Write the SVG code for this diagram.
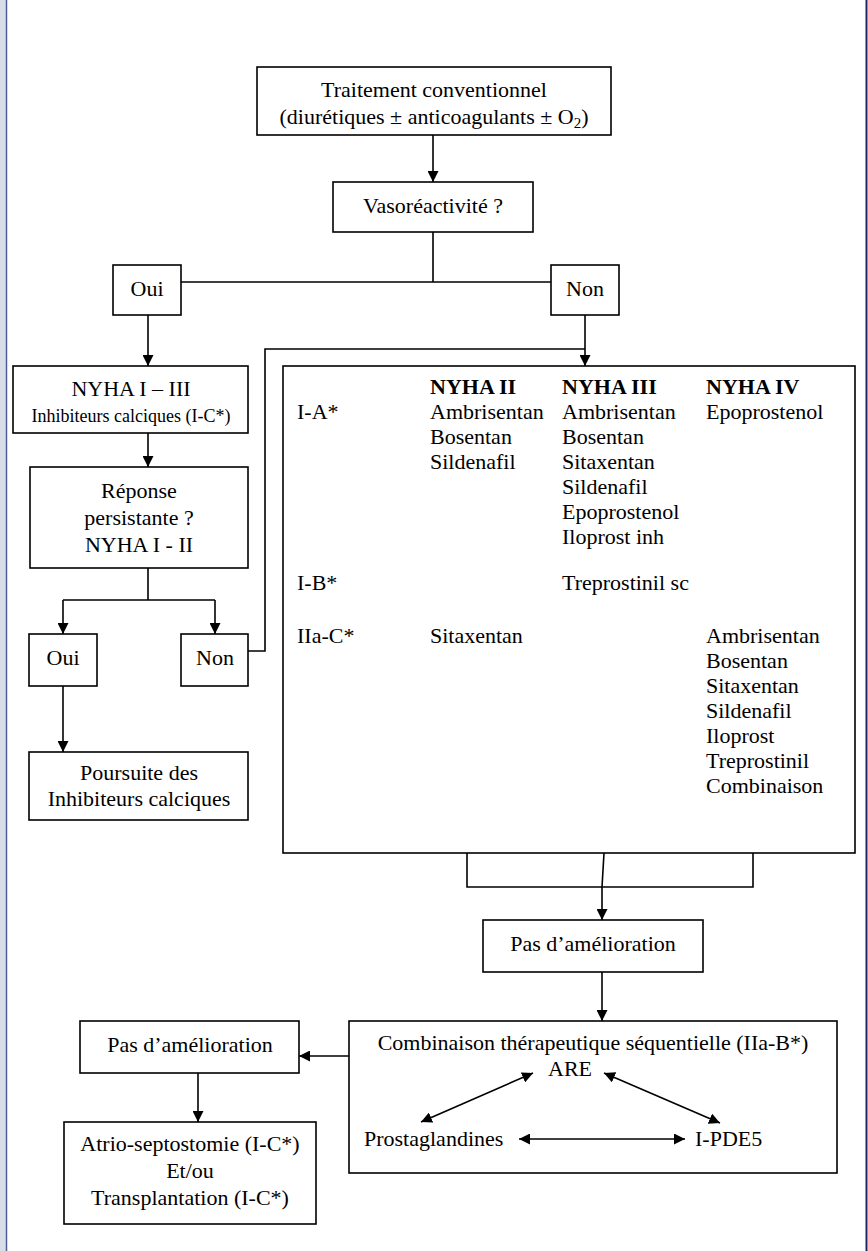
<svg xmlns="http://www.w3.org/2000/svg" width="868" height="1251" viewBox="0 0 868 1251">
<defs>
<marker id="ah" viewBox="0 0 10 10" refX="10" refY="5" markerWidth="11" markerHeight="11" markerUnits="userSpaceOnUse" orient="auto-start-reverse">
<path d="M0,0 L10,5 L0,10 z" fill="#000"/>
</marker>
<style>
.box{fill:#fff;stroke:#000;stroke-width:1.6}
.t{font-family:"Liberation Serif","Times New Roman",serif;font-size:22px;fill:#000}
.c{text-anchor:middle}
.s{font-size:18px}
.b{font-weight:bold}
.ln{fill:none;stroke:#000;stroke-width:1.6}
.ar{fill:none;stroke:#000;stroke-width:1.6;marker-end:url(#ah)}
.ar2{fill:none;stroke:#000;stroke-width:1.6;marker-end:url(#ah);marker-start:url(#ah)}
</style>
</defs>
<rect x="0" y="0" width="868" height="1251" fill="#fff"/>
<rect x="0" y="0" width="6" height="1251" fill="#d8dde9"/>
<line x1="6.5" y1="0" x2="6.5" y2="1251" stroke="#4e5c98" stroke-width="1.5"/>
<line x1="866.5" y1="0" x2="866.5" y2="1251" stroke="#1e2460" stroke-width="2"/>

<g id="n-traitement">
<rect class="box" x="257" y="67" width="354" height="68"/>
<text class="t c" x="434" y="97">Traitement conventionnel</text>
<text class="t c" x="434" y="124">(diurétiques ± anticoagulants ± O<tspan font-size="15" dy="4">2</tspan><tspan dy="-4">)</tspan></text>
</g>
<g id="n-vaso">
<rect class="box" x="333" y="182" width="200" height="50"/>
<text class="t c" x="433" y="213">Vasoréactivité ?</text>
</g>
<g id="n-oui1">
<rect class="box" x="113" y="265" width="68" height="50"/>
<text class="t c" x="147" y="296">Oui</text>
</g>
<g id="n-non1">
<rect class="box" x="551" y="265" width="68" height="50"/>
<text class="t c" x="585" y="296">Non</text>
</g>
<g id="n-nyha">
<rect class="box" x="13" y="366" width="235" height="67"/>
<text class="t c" x="131" y="396">NYHA I – III</text>
<text class="t c s" x="131" y="422">Inhibiteurs calciques (I-C*)</text>
</g>
<g id="n-reponse">
<rect class="box" x="30" y="467" width="218" height="101"/>
<text class="t c" x="139" y="498">Réponse</text>
<text class="t c" x="139" y="525">persistante ?</text>
<text class="t c" x="139" y="552">NYHA I - II</text>
</g>
<g id="n-oui2">
<rect class="box" x="29" y="634" width="68" height="52"/>
<text class="t c" x="63" y="665">Oui</text>
</g>
<g id="n-non2">
<rect class="box" x="181" y="634" width="67" height="52"/>
<text class="t c" x="215" y="665">Non</text>
</g>
<g id="n-poursuite">
<rect class="box" x="29" y="752" width="219" height="68"/>
<text class="t c" x="139" y="780">Poursuite des</text>
<text class="t c" x="139" y="806">Inhibiteurs calciques</text>
</g>
<g id="n-table">
<rect class="box" x="283" y="366" width="572" height="487"/>
<text class="t b" x="430" y="394">NYHA II</text>
<text class="t b" x="562" y="394">NYHA III</text>
<text class="t b" x="706" y="394">NYHA IV</text>
<text class="t" x="297" y="419">I-A*</text>
<text class="t" x="430" y="419">Ambrisentan</text>
<text class="t" x="430" y="444">Bosentan</text>
<text class="t" x="430" y="469">Sildenafil</text>
<text class="t" x="562" y="419">Ambrisentan</text>
<text class="t" x="562" y="444">Bosentan</text>
<text class="t" x="562" y="469">Sitaxentan</text>
<text class="t" x="562" y="494">Sildenafil</text>
<text class="t" x="562" y="519">Epoprostenol</text>
<text class="t" x="562" y="544">Iloprost inh</text>
<text class="t" x="706" y="419">Epoprostenol</text>
<text class="t" x="297" y="590">I-B*</text>
<text class="t" x="562" y="590">Treprostinil sc</text>
<text class="t" x="297" y="643">IIa-C*</text>
<text class="t" x="430" y="643">Sitaxentan</text>
<text class="t" x="706" y="643">Ambrisentan</text>
<text class="t" x="706" y="668">Bosentan</text>
<text class="t" x="706" y="693">Sitaxentan</text>
<text class="t" x="706" y="718">Sildenafil</text>
<text class="t" x="706" y="743">Iloprost</text>
<text class="t" x="706" y="768">Treprostinil</text>
<text class="t" x="706" y="793">Combinaison</text>
</g>
<g id="n-pas1">
<rect class="box" x="483" y="920" width="220" height="52"/>
<text class="t c" x="593" y="951">Pas d’amélioration</text>
</g>
<g id="n-combi">
<rect class="box" x="349" y="1021" width="488" height="152"/>
<text class="t c" x="593" y="1050">Combinaison thérapeutique séquentielle (IIa-B*)</text>
<text class="t c" x="570" y="1076">ARE</text>
<text class="t" x="364" y="1146">Prostaglandines</text>
<text class="t" x="695" y="1146">I-PDE5</text>
</g>
<g id="n-pas2">
<rect class="box" x="80" y="1021" width="219" height="52"/>
<text class="t c" x="190" y="1052">Pas d’amélioration</text>
</g>
<g id="n-atrio">
<rect class="box" x="64" y="1122" width="252" height="102"/>
<text class="t c" x="190" y="1151">Atrio-septostomie (I-C*)</text>
<text class="t c" x="190" y="1178">Et/ou</text>
<text class="t c" x="190" y="1205">Transplantation (I-C*)</text>
</g>

<g id="connectors">
<path class="ar" d="M433,135 V182"/>
<path class="ln" d="M433,232 V282 M181,282 H551"/>
<path class="ar" d="M148,315 V366"/>
<path class="ar" d="M585,315 V366"/>
<path class="ln" d="M248,651 H265 V349 H585"/>
<path class="ar" d="M148,433 V467"/>
<path class="ln" d="M148,568 V600 M63,600 H215"/>
<path class="ar" d="M63,600 V634"/>
<path class="ar" d="M215,600 V634"/>
<path class="ar" d="M63,686 V752"/>
<path class="ln" d="M467,853 V887 H753 V853"/>
<path class="ar" d="M604,853 L602,887 V920"/>
<path class="ar" d="M602,972 V1021"/>
<path class="ar" d="M349,1056 H299"/>
<path class="ar" d="M198,1073 V1122"/>
<path class="ar2" d="M421,1122 L533,1073"/>
<path class="ar2" d="M604,1073 L720,1123"/>
<path class="ar2" d="M519,1139 H685"/>
</g>
</svg>
